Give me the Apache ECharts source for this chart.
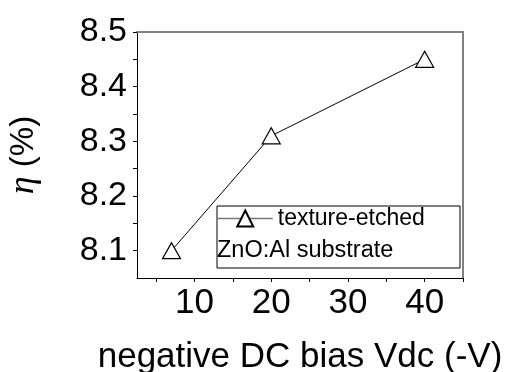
<!DOCTYPE html>
<html>
<head>
<meta charset="utf-8">
<script src="https://cdn.jsdelivr.net/npm/echarts@6/dist/echarts.min.js"></script>
<style>html,body{margin:0;padding:0;background:#fff}#c{width:512px;height:372px}</style>
</head>
<body>
<div id="c"></div>
<script>
const seriesName = 'texture-etched';
const noteText = 'ZnO:Al substrate';
const biasValues = [7, 20, 40];
const etaValues = [8.10, 8.31, 8.45];
const xTickLabels = [10, 20, 30, 40];
const xTicks = [5, 10, 15, 20, 25, 30, 35, 40, 45];
const yTickLabels = [8.1, 8.2, 8.3, 8.4, 8.5];
const yTicks = [8.1, 8.15, 8.2, 8.25, 8.3, 8.35, 8.4, 8.45, 8.5];
const xTitle = 'negative DC bias Vdc (-V)';

const FONT = 'Liberation Sans, Arial, sans-serif';
const chart = echarts.init(document.getElementById('c'), null, {renderer: 'canvas'});
chart.setOption({
  animation: false,
  backgroundColor: '#fff',
  grid: {left: 137, right: 49, top: 32, bottom: 94, containLabel: false, outerBoundsMode: 'none'},
  legend: {
    data: [seriesName],
    left: 217, top: 207,
    itemWidth: 55, itemHeight: 20,
    padding: 0,
    textStyle: {fontFamily: FONT, fontSize: 23, color: '#000'},
    lineStyle: {color: '#777', width: 1.5}
  },
  graphic: [
    {type: 'rect', shape: {x: 217, y: 206, width: 243, height: 62}, style: {fill: '#fff', stroke: '#000', lineWidth: 1}, z: 1},
    {type: 'text', left: 217, top: 239, style: {text: noteText, font: '23.5px ' + FONT, fill: '#000'}, z: 5}
  ],
  xAxis: [{
    type: 'value', min: 2.5, max: 45, position: 'bottom',
    axisLine: {show: true, lineStyle: {color: '#000', width: 1}},
    axisTick: {show: true, customValues: xTicks, length: 4, inside: false, lineStyle: {color: '#000'}},
    axisLabel: {customValues: xTickLabels, fontFamily: FONT, fontSize: 35, color: '#000', margin: 8},
    splitLine: {show: false},
    name: xTitle, nameLocation: 'middle', nameGap: 62,
    nameTextStyle: {fontFamily: FONT, fontSize: 35, color: '#000'}
  }, {
    type: 'value', min: 2.5, max: 45, position: 'top',
    axisLine: {show: true, lineStyle: {color: '#808080', width: 2}},
    axisTick: {show: false}, axisLabel: {show: false}, splitLine: {show: false}
  }],
  yAxis: [{
    type: 'value', min: 8.05, max: 8.5, position: 'left',
    axisLine: {show: true, lineStyle: {color: '#000', width: 1}},
    axisTick: {show: true, customValues: yTicks, length: 4, inside: false, lineStyle: {color: '#000'}},
    axisLabel: {customValues: yTickLabels, formatter: v => v.toFixed(1), fontFamily: FONT, fontSize: 34, color: '#000', margin: 10},
    splitLine: {show: false},
    name: '{i|η} (%)', nameLocation: 'middle', nameGap: 95, nameRotate: 90,
    nameTextStyle: {fontFamily: FONT, fontSize: 33, color: '#000',
      rich: {i: {fontFamily: 'Liberation Serif, serif', fontStyle: 'italic', fontSize: 36, color: '#000'}}}
  }, {
    type: 'value', min: 8.05, max: 8.5, position: 'right',
    axisLine: {show: true, lineStyle: {color: '#808080', width: 2}},
    axisTick: {show: false}, axisLabel: {show: false}, splitLine: {show: false}
  }],
  series: [{
    name: seriesName, type: 'line',
    data: biasValues.map((x, i) => [x, etaValues[i]]),
    symbol: 'triangle', symbolSize: [18, 16],
    lineStyle: {color: '#000', width: 1},
    itemStyle: {color: '#fff', borderColor: '#000', borderWidth: 1.2},
    z: 3
  }]
});
</script>
</body>
</html>
